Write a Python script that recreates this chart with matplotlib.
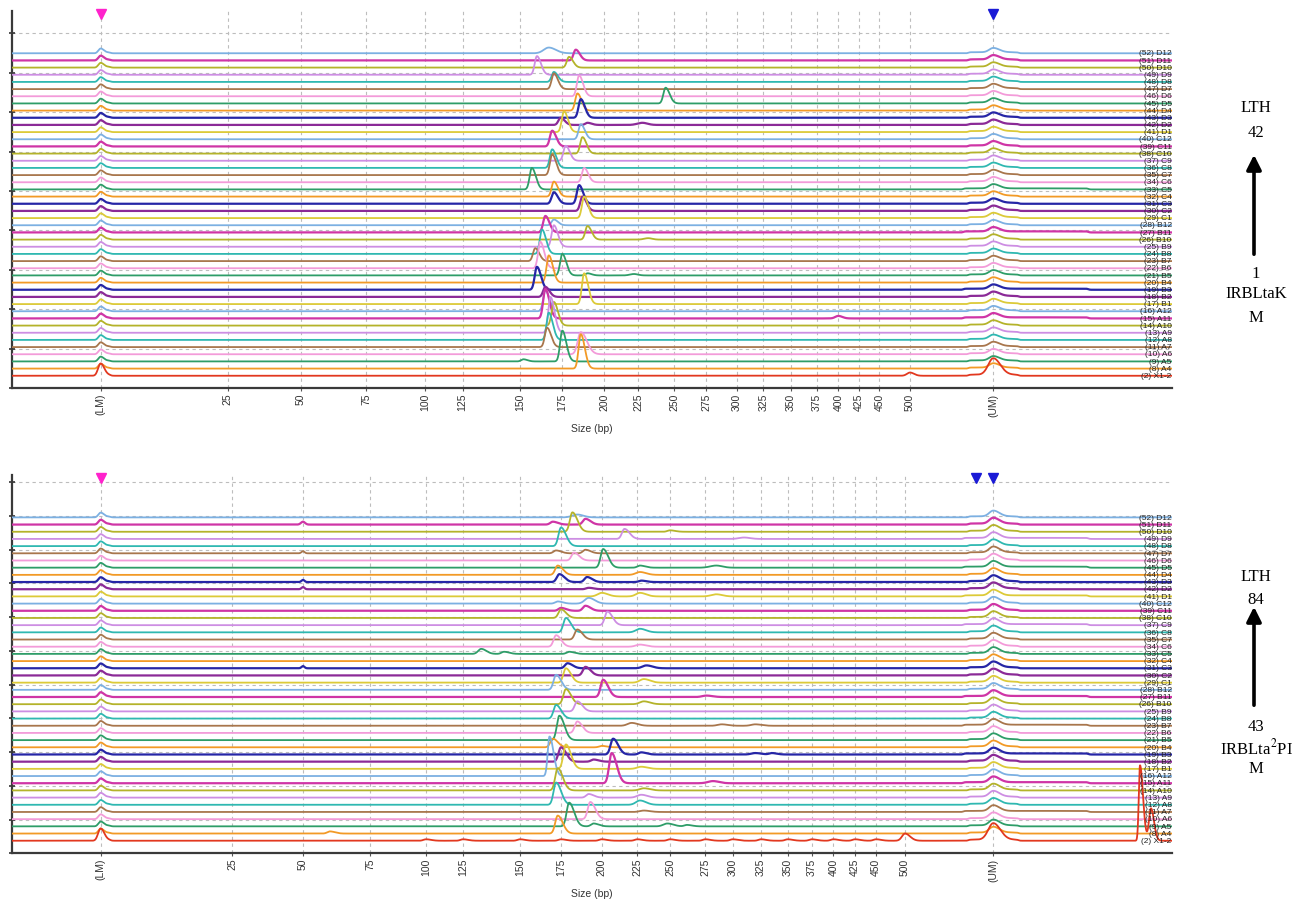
import numpy as np
import matplotlib.pyplot as plt

plt.rcParams['font.family'] = ['Liberation Sans', 'DejaVu Sans']
plt.rcParams['mathtext.fontset'] = 'stix'

# size ladder (bp) and the migration time where each size falls, one per run
ladder_bp = [15, 25, 50, 75, 100, 125, 150, 175, 200, 225, 250, 275, 300,
             325, 350, 375, 400, 425, 450, 500, 1000]
tick_labels = ['(LM)', '25', '50', '75', '100', '125', '150', '175', '200', '225',
               '250', '275', '300', '325', '350', '375', '400', '425', '450',
               '500', '(UM)']
ladder_time_top = [100.7, 227.7, 300.7, 366, 425, 462.7, 520, 562.3, 604.3, 638,
                   674.3, 706, 736.7, 763.3, 790.7, 816.7, 838.3, 859, 879.3,
                   910, 993.3]
ladder_time_bottom = [100.7, 232, 303, 370, 426, 463, 520, 561, 601.7, 637.3,
                      670, 705.3, 732.7, 761, 787.7, 811.7, 833.3, 855, 876,
                      905, 993.3]
run_range = (12.3, 1171.7)

# lanes, bottom to top
well_labels = ['(2) X1-2',
               '(8) A4', '(9) A5', '(10) A6', '(11) A7', '(12) A8', '(13) A9',
               '(14) A10', '(15) A11', '(16) A12',
               '(17) B1', '(18) B2', '(19) B3', '(20) B4', '(21) B5', '(22) B6',
               '(23) B7', '(24) B8', '(25) B9', '(26) B10', '(27) B11', '(28) B12',
               '(29) C1', '(30) C2', '(31) C3', '(32) C4', '(33) C5', '(34) C6',
               '(35) C7', '(36) C8', '(37) C9', '(38) C10', '(39) C11', '(40) C12',
               '(41) D1', '(42) D2', '(43) D3', '(44) D4', '(45) D5', '(46) D6',
               '(47) D7', '(48) D8', '(49) D9', '(50) D10', '(51) D11', '(52) D12']
ladder_color = '#e2381f'
palette = ['#f29a26', '#2e9d68', '#f39bd9', '#a8764c', '#2fb8b1', '#cd8ee3',
           '#b4b32a', '#cf35a6', '#7cb0e2', '#dcca38', '#8b2a97', '#2626a6']

# peaks per lane: (size bp, height in lane spacings[, rise width, tail width])
peaks_top = [
    [(500, 0.45, 3, 4)],
    [(186, 4.8)],
    [(152, 0.3), (175, 4.3)],
    [(186, 3.1, 3, 6)],
    [(166, 2.7)],
    [(167, 3.8)],
    [(168, 5.0)],
    [(170, 3.3)],
    [(165, 4.1), (400, 0.35, 3, 4)],
    [(165, 2.9)],
    [(188, 4.3)],
    [(165, 1.4)],
    [(160, 3.2)],
    [(167, 3.8)],
    [(175, 3.0), (190, 0.3), (222, 0.2, 4, 4)],
    [(162, 3.7)],
    [(159, 1.8)],
    [(163, 3.4)],
    [(170, 3.0)],
    [(190, 1.9), (232, 0.2, 4, 4)],
    [(165, 2.3)],
    [(170, 0.8)],
    [(188, 3.0)],
    [(187, 2.0)],
    [(170, 1.6), (185, 2.6)],
    [(170, 2.1)],
    [(157, 3.0)],
    [(188, 2.0)],
    [(169, 2.9)],
    [(169, 2.6)],
    [(177, 2.1)],
    [(187, 2.3)],
    [(169, 2.2)],
    [(186, 2.1)],
    [(176, 2.9)],
    [(174, 1.0), (190, 0.3), (228, 0.3, 5, 5)],
    [(186, 2.6)],
    [(184, 2.4)],
    [(244, 2.2)],
    [(185, 2.9)],
    [(170, 2.2)],
    [(170, 1.4)],
    [(160, 2.6)],
    [(179, 1.5)],
    [(183, 1.5)],
    [(167, 0.8, 5, 7)],
]

peaks_bottom = [
    [(100, 0.2), (125, 0.2), (150, 0.2), (175, 0.2), (200, 0.2), (225, 0.2),
     (250, 0.2), (275, 0.2), (300, 0.2), (325, 0.2), (350, 0.2), (375, 0.2),
     (400, 0.2), (425, 0.2), (450, 0.2), (500, 1.0, 3, 5)],
    [(60, 0.3), (173, 2.5)],
    [(180, 3.3), (195, 0.4), (248, 0.4, 4, 6), (262, 0.2)],
    [(193, 2.4)],
    [(230, 0.2, 4, 6)],
    [(172, 3.1), (227, 0.6, 4, 6)],
    [(192, 0.5), (228, 0.4, 4, 6)],
    [(173, 3.1), (230, 0.3, 4, 6)],
    [(207, 4.2), (282, 0.3, 5, 6)],
    [(168, 5.5, 1.8, 4)],
    [(178, 3.4), (228, 0.3, 4, 6)],
    [(175, 2.0), (195, 0.3)],
    [(208, 2.2), (228, 0.3), (320, 0.2, 4, 6), (335, 0.2)],
    [(170, 1.2), (200, 0.2)],
    [(174, 3.4)],
    [(185, 1.6)],
    [(221, 0.4, 4, 6), (290, 0.2, 4, 6), (320, 0.2, 4, 6)],
    [(172, 1.9)],
    [(185, 1.4)],
    [(178, 2.1), (230, 0.4, 4, 6)],
    [(201, 2.4), (276, 0.2, 4, 6)],
    [(172, 2.1)],
    [(178, 2.0), (230, 0.5, 4, 6)],
    [(190, 1.2)],
    [(50, 0.3, 1.5, 1.5), (179, 0.7), (232, 0.4, 4, 6)],
    [],
    [(133, 0.7, 3, 5), (143, 0.3), (180, 0.3)],
    [(172, 1.6), (227, 0.3, 4, 6)],
    [(185, 1.4)],
    [(178, 2.0), (227, 0.5, 4, 6)],
    [(204, 1.9)],
    [(175, 1.2)],
    [(175, 0.4), (190, 0.7)],
    [(173, 0.3), (192, 0.8, 4, 6)],
    [(200, 0.5, 4, 6), (227, 0.5, 4, 6), (285, 0.3, 5, 6)],
    [(50, 0.3, 1.5, 1.5), (192, 0.2)],
    [(50, 0.3, 1.5, 1.5), (174, 1.1), (191, 0.7), (228, 0.2)],
    [(173, 1.3), (227, 0.4, 4, 6)],
    [(201, 2.6), (227, 0.3), (285, 0.3, 6, 6)],
    [(183, 1.1)],
    [(50, 0.3, 1.5, 1.5), (172, 0.4), (190, 0.5)],
    [(175, 2.6)],
    [(216, 1.4), (310, 0.2, 5, 6)],
    [(182, 2.7), (250, 0.2)],
    [(50, 0.4, 2, 2), (170, 0.4), (190, 0.8)],
    [(185, 0.4, 5, 6)],
]

# lanes with a long raised shoulder around the upper marker
wide_shoulder_top = [8, 12, 20, 26]
wide_shoulder_bottom = [4, 8, 12, 16, 20, 30, 34, 38, 42]

# end-of-run artefact on the ladder lane of the second run (migration time, height, rise, tail)
end_spike_bottom = [(1140, 10.5, 1.2, 3.0), (1151, 4.5, 2.0, 3.0)]

marker_bp_top = [15, 1000]
marker_bp_bottom = [15, 900, 1000]

note_top = ['LTH', '42', '1', 'IRBLtaK', 'M']
note_bottom = ['LTH', '84', '43', r'IRBLta$^{\mathrm{2}}$PI', 'M']


def peak_shape(t, centre, height, rise, tail):
    return height * np.where(t < centre,
                             np.exp(-0.5 * ((t - centre) / rise) ** 2),
                             np.exp(-0.5 * ((t - centre) / tail) ** 2))


def shoulder(t, a, b, h):
    return h * 0.5 * (np.tanh((t - a) / 1.5) - np.tanh((t - b) / 1.5))


def draw_run(ax, ladder_time, peaks, wide, markers, n_grid, grid_top, y_top,
             rise, tail, um_h, extra=None):
    t = np.linspace(run_range[0], run_range[1], 5000)
    lm_t = np.interp(15, ladder_bp, ladder_time)
    um_t = np.interp(1000, ladder_bp, ladder_time)
    for i, lane in enumerate(peaks):
        y = np.zeros_like(t)
        if i == 0:
            y += peak_shape(t, lm_t, 1.6, 2.5, 3.5)
            y += peak_shape(t, um_t, 2.3, 5.0, 7.0)
        else:
            y += peak_shape(t, lm_t, 0.55, 2.0, 3.0)
            y += peak_shape(t, um_t, um_h, 4.0, 6.0)
        y += shoulder(t, lm_t - 4, lm_t + 10, 0.12)
        if i in wide:
            y += shoulder(t, um_t - 30, um_t + 95, 0.15)
        else:
            y += shoulder(t, um_t - 25, um_t + 25, 0.15)
        for p in lane:
            r = p[2] if len(p) > 2 else rise
            tl = p[3] if len(p) > 3 else tail
            y += peak_shape(t, np.interp(p[0], ladder_bp, ladder_time), p[1], r, tl)
        if i == 0 and extra:
            for c, h, r, tl in extra:
                y += peak_shape(t, c, h, r, tl)
        col = ladder_color if i == 0 else palette[(i - 1) % 12]
        lw = 1.6 if col in ('#2626a6', '#8b2a97', '#cf35a6') else 1.3
        ax.plot(t, i + y, color=col, lw=lw, zorder=200 - i)
        ax.text(run_range[1], i - 0.1, well_labels[i], fontsize=6, color='#222222',
                ha='right', va='center', zorder=300)

    tick_t = np.interp(ladder_bp, ladder_bp, ladder_time)
    ax.set_xlim(*run_range)
    ax.set_ylim(-1.75, y_top)
    ax.set_xticks(tick_t)
    ax.set_xticklabels(tick_labels, rotation=90, fontsize=7.5, color='#333333')
    ax.set_yticks(np.linspace(-1.75, grid_top, n_grid + 1))
    ax.tick_params(axis='y', labelleft=False, length=4, width=1.2,
                   direction='inout', color='#333333')
    ax.tick_params(axis='x', length=2, width=0.8, color='#555555', pad=2)
    ax.grid(True, color='#bdbdbd', lw=0.8, ls=(0, (3, 3)))
    ax.set_axisbelow(True)
    for s in ('top', 'right'):
        ax.spines[s].set_visible(False)
    for s in ('left', 'bottom'):
        ax.spines[s].set_color('#3a3a3a')
        ax.spines[s].set_linewidth(1.6)
    ax.set_xlabel('Size (bp)', fontsize=7.5, color='#333333', labelpad=5)

    mk_t = np.interp(markers, ladder_bp, ladder_time)
    mk_col = ['#ff22cc' if m == 15 else '#1a1ad6' for m in markers]
    for x, c in zip(mk_t, mk_col):
        ax.plot(x, 0.993, marker='v', ms=7, color=c, mec=c,
                transform=ax.get_xaxis_transform(), clip_on=False, zorder=400)


fig = plt.figure(figsize=(13.04, 9.01), dpi=100)
W, H = 1304, 901

ax1 = fig.add_axes([12.3 / W, 1 - 388.3 / H, 1159.4 / W, 377.3 / H])
draw_run(ax1, ladder_time_top, peaks_top, wide_shoulder_top, marker_bp_top,
         9, 47.8, 50.9, 2.2, 4.0, 0.6)

ax2 = fig.add_axes([12.3 / W, 1 - 853.3 / H, 1159.4 / W, 378.3 / H])
draw_run(ax2, ladder_time_bottom, peaks_bottom, wide_shoulder_bottom,
         marker_bp_bottom, 11, 49.9, 50.9, 2.5, 5.0, 0.8, end_spike_bottom)

# lane range notes on the right
for notes, ys, arrow in ((note_top, [108, 133, 274, 294, 318], (257, 152)),
                         (note_bottom, [577, 600, 727, 748, 769], (708, 604))):
    for s, y in zip(notes, ys):
        fig.text(1256 / W, 1 - y / H, s, ha='center', va='center', fontsize=12,
                 family=['Liberation Serif', 'DejaVu Serif'])
    fig.add_artist(plt.Annotation('', xy=(1254 / W, 1 - arrow[1] / H),
                                  xytext=(1254 / W, 1 - arrow[0] / H),
                                  xycoords='figure fraction',
                                  arrowprops=dict(arrowstyle='-|>', lw=2.6,
                                                  color='black',
                                                  mutation_scale=22)))

fig.savefig('out.png', dpi=100)
